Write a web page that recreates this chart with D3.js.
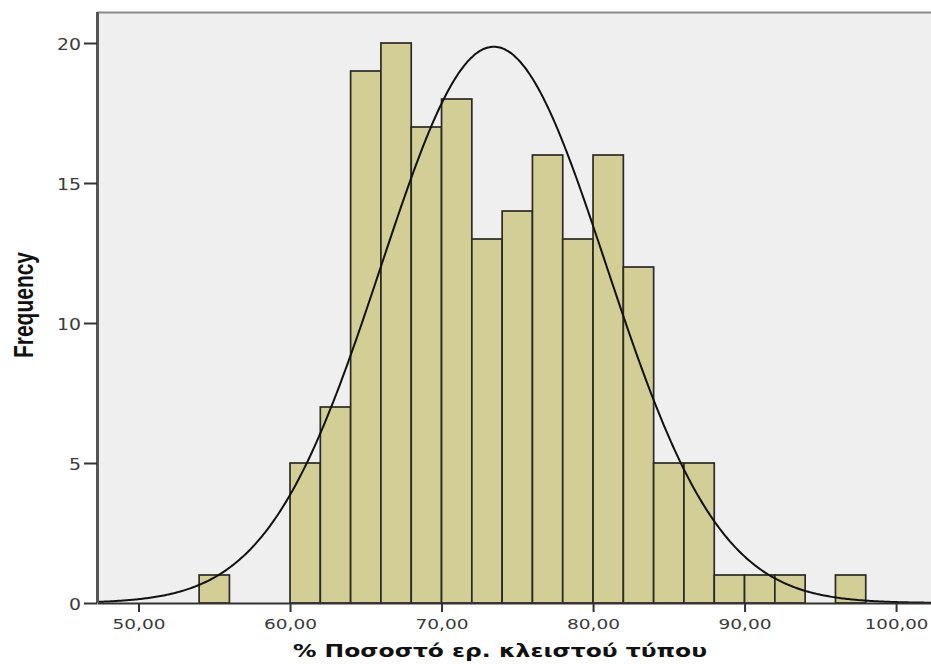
<!DOCTYPE html>
<html>
<head>
<meta charset="utf-8">
<script src="https://cdn.jsdelivr.net/npm/d3@7"></script>
<style>
  html, body { margin: 0; padding: 0; background: #ffffff; }
  svg { display: block; }
</style>
</head>
<body>
<svg id="chart" width="931" height="664"></svg>
<script>
// Histogram bins (lower edge, width 2) and their frequencies
const binStarts = [54, 56, 58, 60, 62, 64, 66, 68, 70, 72, 74, 76, 78, 80, 82, 84, 86, 88, 90, 92, 94, 96];
const binCounts = [1, 0, 0, 5, 7, 19, 20, 17, 18, 13, 14, 16, 13, 16, 12, 5, 5, 1, 1, 1, 0, 1];
const binWidth = 2;

// Fitted normal curve parameters
const fitMean = 73.45;
const fitSD = 7.43;
const fitN = 185;

const xTicks = [50, 60, 70, 80, 90, 100];
const yTicks = [0, 5, 10, 15, 20];
const xTitle = "% Ποσοστό ερ. κλειστού τύπου";
const yTitle = "Frequency";

const svg = d3.select("#chart");

const plot = { left: 97, top: 12, right: 940, bottom: 603 };

const x = d3.scaleLinear().domain([47.26, 102.9]).range([plot.left, plot.right]);
const y = d3.scaleLinear().domain([0, 20]).range([plot.bottom, 43]);

const tickFont = "'DejaVu Sans', Verdana, sans-serif";
const charW = 10.7; // wide tick lettering

// plot background
svg.append("rect")
  .attr("x", plot.left).attr("y", plot.top)
  .attr("width", plot.right - plot.left).attr("height", plot.bottom - plot.top)
  .attr("fill", "#efefef");

// top frame line
svg.append("line")
  .attr("x1", plot.left).attr("x2", plot.right)
  .attr("y1", plot.top + 0.5).attr("y2", plot.top + 0.5)
  .attr("stroke", "#8a8a8a").attr("stroke-width", 2);

// bars
const bins = binStarts.map((s, i) => ({ start: s, count: binCounts[i] })).filter(d => d.count > 0);
svg.append("g")
  .selectAll("rect")
  .data(bins)
  .join("rect")
  .attr("x", d => x(d.start))
  .attr("y", d => y(d.count))
  .attr("width", d => x(d.start + binWidth) - x(d.start))
  .attr("height", d => y(0) - y(d.count))
  .attr("fill", "#d2ce96")
  .attr("stroke", "#2a2a26")
  .attr("stroke-width", 1.7);

// normal curve
const pdf = v => fitN * binWidth / (fitSD * Math.sqrt(2 * Math.PI)) *
  Math.exp(-0.5 * Math.pow((v - fitMean) / fitSD, 2));
const curveXs = d3.range(x.domain()[0], x.domain()[1] + 0.001, 0.1);
svg.append("path")
  .datum(curveXs)
  .attr("fill", "none")
  .attr("stroke", "#111")
  .attr("stroke-width", 2)
  .attr("d", d3.line().x(v => x(v)).y(v => y(pdf(v))).curve(d3.curveMonotoneX));

// x axis
const fmtX = d => d3.format(".2f")(d).replace(".", ",");
const xAxis = svg.append("g")
  .attr("transform", `translate(0,${plot.bottom})`)
  .call(d3.axisBottom(x).tickValues(xTicks).tickSize(9).tickSizeOuter(0).tickFormat(fmtX));
xAxis.select(".domain").attr("stroke", "#333").attr("stroke-width", 2.2);
xAxis.selectAll(".tick line").attr("stroke", "#333").attr("stroke-width", 2);
xAxis.selectAll(".tick text")
  .attr("dy", null).attr("y", 25.5)
  .attr("fill", "#3a3a3a")
  .style("font-family", tickFont)
  .style("font-size", "14px")
  .attr("textLength", d => fmtX(d).length * charW - 0.5)
  .attr("lengthAdjust", "spacingAndGlyphs");

// y axis
const yAxis = svg.append("g")
  .attr("transform", `translate(${plot.left},0)`)
  .call(d3.axisLeft(y).tickValues(yTicks).tickSize(13).tickSizeOuter(0));
yAxis.select(".domain").attr("stroke", "#555").attr("stroke-width", 3)
  .attr("d", `M0.5,${plot.top}V${plot.bottom}`);
yAxis.selectAll(".tick line").attr("stroke", "#333").attr("stroke-width", 2);
yAxis.selectAll(".tick text")
  .attr("x", -16).attr("dy", null).attr("y", 6)
  .attr("fill", "#3a3a3a")
  .style("font-family", tickFont)
  .style("font-size", "15px")
  .attr("textLength", d => String(d).length * 12)
  .attr("lengthAdjust", "spacingAndGlyphs");

// axis titles
svg.append("text")
  .attr("x", 500).attr("y", 657)
  .attr("text-anchor", "middle")
  .attr("fill", "#111")
  .style("font-family", "'DejaVu Sans', Verdana, sans-serif")
  .style("font-weight", "bold")
  .style("font-size", "18px")
  .attr("textLength", 414)
  .attr("lengthAdjust", "spacingAndGlyphs")
  .text(xTitle);

svg.append("text")
  .attr("transform", "translate(33,305) rotate(-90)")
  .attr("text-anchor", "middle")
  .attr("fill", "#111")
  .style("font-family", "'Liberation Sans Narrow', 'Arial Narrow', sans-serif")
  .style("font-weight", "bold")
  .style("font-size", "27px")
  .attr("textLength", 106)
  .attr("lengthAdjust", "spacingAndGlyphs")
  .text(yTitle);
</script>
</body>
</html>
